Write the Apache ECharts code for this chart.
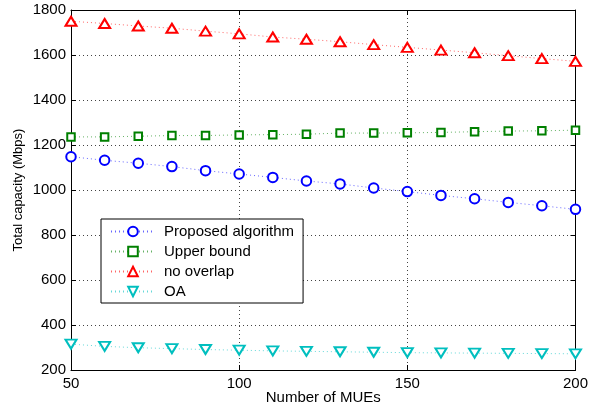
<!DOCTYPE html>
<html>
<head>
<meta charset="utf-8">
<script src="https://cdn.jsdelivr.net/npm/echarts@6/dist/echarts.min.js"></script>
<style>html,body{margin:0;padding:0;background:#fff;}#c{width:591px;height:414px;}</style>
</head>
<body>
<div id="c"></div>
<script>
var mues = [50, 60, 70, 80, 90, 100, 110, 120, 130, 140, 150, 160, 170, 180, 190, 200];
var proposed = [1148, 1132, 1119, 1104, 1086, 1071, 1056, 1040, 1027, 1009, 993, 976, 961, 945, 930, 914];
var upperBound = [1236, 1236, 1239, 1242, 1242, 1245, 1246, 1248, 1253, 1253, 1254, 1256, 1259, 1262, 1263, 1266];
var noOverlap = [1750, 1740, 1729, 1719, 1706, 1694, 1680, 1670, 1659, 1646, 1634, 1622, 1610, 1597, 1584, 1572];
var oa = [315, 305, 299, 295, 291, 288, 285, 283, 281, 279, 277, 276, 275, 274, 273, 272];
var seriesNames = ['Proposed algorithm', 'Upper bound', 'no overlap', 'OA'];

function pairs(v) { return mues.map(function (x, i) { return [x, v[i]]; }); }

var font = 'Liberation Sans, Arial, Helvetica, sans-serif';
var chart = echarts.init(document.getElementById('c'));

function mk(name, data, color, symbol, size, rot) {
  return {
    name: name, type: 'line', data: pairs(data),
    xAxisIndex: 0, yAxisIndex: 0,
    symbol: symbol, symbolSize: size, symbolRotate: rot || 0,
    showAllSymbol: true,
    lineStyle: { color: color, width: 1, type: [1, 3], opacity: 0.6 },
    itemStyle: { color: color, borderColor: color, borderWidth: 1 },
    emphasis: { disabled: true },
    animation: false
  };
}

var axisCommon = {
  axisLine: { show: true, lineStyle: { color: '#000', width: 1 } },
  axisTick: { show: true, inside: true, length: 5, lineStyle: { color: '#000' } }
};
function plain(v) { return String(v); }

chart.setOption({
  animation: false,
  backgroundColor: '#fff',
  grid: { left: 71, right: 12, top: 10, bottom: 44, containLabel: false },
  xAxis: [
    Object.assign({
      type: 'value', min: 50, max: 200, interval: 50, position: 'bottom',
      name: 'Number of MUEs', nameLocation: 'middle', nameGap: 20, nameMoveOverlap: false,
      nameTextStyle: { fontFamily: font, fontSize: 15, color: '#000' },
      axisLabel: { fontFamily: font, fontSize: 15, color: '#000', margin: 6, formatter: plain },
      splitLine: { show: true, lineStyle: { color: '#444', type: [1, 3], width: 1 } }
    }, axisCommon),
    Object.assign({
      type: 'value', min: 50, max: 200, interval: 50, position: 'top',
      axisLabel: { show: false }, splitLine: { show: false }
    }, axisCommon)
  ],
  yAxis: [
    Object.assign({
      type: 'value', min: 200, max: 1800, interval: 200, position: 'left',
      name: 'Total capacity (Mbps)', nameLocation: 'middle', nameGap: 46, nameMoveOverlap: false,
      nameTextStyle: { fontFamily: font, fontSize: 13, color: '#000' },
      axisLabel: { fontFamily: font, fontSize: 15, color: '#000', margin: 5, formatter: plain },
      splitLine: { show: true, lineStyle: { color: '#444', type: [1, 3], width: 1 } }
    }, axisCommon),
    Object.assign({
      type: 'value', min: 200, max: 1800, interval: 200, position: 'right',
      axisLabel: { show: false }, splitLine: { show: false }
    }, axisCommon)
  ],
  legend: {
    orient: 'vertical', left: 101, top: 219,
    data: seriesNames,
    backgroundColor: '#fff', borderColor: '#000', borderWidth: 1,
    padding: [5, 9, 4, 9], itemGap: 5, itemWidth: 44, itemHeight: 12,
    selectedMode: false,
    textStyle: { fontFamily: font, fontSize: 15, lineHeight: 15, color: '#000', padding: [0, 0, 0, 4] }
  },
  series: [
    mk(seriesNames[0], proposed, '#0000ff', 'emptyCircle', 9.5),
    mk(seriesNames[1], upperBound, '#008000', 'emptyRect', 7.5),
    mk(seriesNames[2], noOverlap, '#ff0000', 'emptyTriangle', [11, 9]),
    mk(seriesNames[3], oa, '#00bfbf', 'emptyTriangle', [11, 9], 180)
  ]
});
</script>
</body>
</html>
